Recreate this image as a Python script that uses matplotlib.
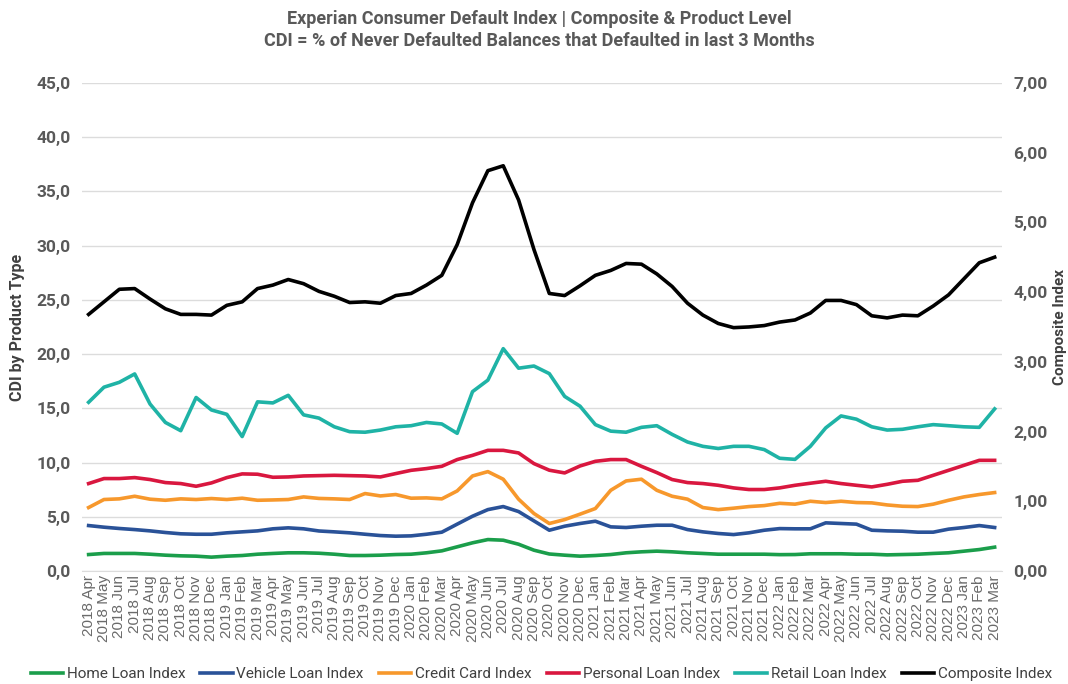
import matplotlib
matplotlib.use('Agg')
import matplotlib.pyplot as plt
from matplotlib.ticker import FuncFormatter, MultipleLocator

plt.rcParams['font.family'] = ['Roboto', 'DejaVu Sans']

years = [2018]*9 + [2019]*12 + [2020]*12 + [2021]*12 + [2022]*12 + [2023]*3
months = (['Apr', 'May', 'Jun', 'Jul', 'Aug', 'Sep', 'Oct', 'Nov', 'Dec']
          + ['Jan', 'Feb', 'Mar', 'Apr', 'May', 'Jun', 'Jul', 'Aug', 'Sep', 'Oct', 'Nov', 'Dec'] * 4
          + ['Jan', 'Feb', 'Mar'])
labels = [f'{y} {m}' for y, m in zip(years, months)]

home = [1.53, 1.63, 1.63, 1.63, 1.56, 1.47, 1.41, 1.38, 1.29, 1.38, 1.44, 1.56, 1.63, 1.69, 1.69, 1.65,
        1.56, 1.44, 1.44, 1.47, 1.53, 1.56, 1.69, 1.87, 2.24, 2.61, 2.91, 2.85, 2.48, 1.93, 1.58,
        1.47, 1.38, 1.44, 1.53, 1.69, 1.78, 1.84, 1.78, 1.69, 1.63, 1.56, 1.56, 1.56, 1.56, 1.52,
        1.53, 1.60, 1.60, 1.60, 1.56, 1.56, 1.50, 1.53, 1.56, 1.63, 1.69, 1.84, 1.99, 2.21]
vehicle = [4.20, 4.05, 3.93, 3.83, 3.71, 3.56, 3.44, 3.40, 3.40, 3.53, 3.62, 3.71, 3.90, 3.99, 3.90, 3.70,
           3.62, 3.53, 3.40, 3.28, 3.22, 3.25, 3.40, 3.59, 4.33, 5.06, 5.67, 5.95, 5.49, 4.63, 3.77,
           4.14, 4.39, 4.60, 4.08, 4.02, 4.14, 4.23, 4.23, 3.83, 3.62, 3.47, 3.37, 3.53, 3.77, 3.92,
           3.90, 3.90, 4.45, 4.39, 4.33, 3.77, 3.71, 3.68, 3.59, 3.59, 3.87, 4.02, 4.20, 4.02]
credit = [5.86, 6.60, 6.66, 6.90, 6.63, 6.53, 6.66, 6.60, 6.69, 6.60, 6.72, 6.53, 6.56, 6.60, 6.84, 6.70,
          6.66, 6.60, 7.15, 6.93, 7.06, 6.72, 6.75, 6.66, 7.39, 8.77, 9.17, 8.47, 6.63, 5.31, 4.39,
          4.75, 5.25, 5.77, 7.45, 8.31, 8.47, 7.45, 6.90, 6.63, 5.86, 5.67, 5.80, 5.95, 6.04, 6.25,
          6.17, 6.44, 6.32, 6.44, 6.32, 6.29, 6.10, 5.98, 5.95, 6.17, 6.53, 6.84, 7.06, 7.24]
personal = [8.07, 8.53, 8.53, 8.62, 8.44, 8.16, 8.07, 7.82, 8.13, 8.62, 8.96, 8.93, 8.65, 8.68, 8.77, 8.80,
            8.83, 8.80, 8.77, 8.68, 8.99, 9.29, 9.45, 9.66, 10.28, 10.67, 11.13, 11.13, 10.89, 9.91, 9.30,
            9.05, 9.69, 10.12, 10.28, 10.28, 9.66, 9.08, 8.44, 8.16, 8.07, 7.91, 7.67, 7.52, 7.52, 7.67,
            7.91, 8.10, 8.28, 8.07, 7.91, 7.76, 8.00, 8.28, 8.37, 8.83, 9.29, 9.75, 10.21, 10.21]
retail = [15.56, 16.95, 17.40, 18.17, 15.40, 13.70, 12.94, 16.00, 14.85, 14.45, 12.40, 15.60, 15.50, 16.20, 14.40, 14.10,
          13.30, 12.85, 12.80, 13.00, 13.30, 13.40, 13.70, 13.56, 12.70, 16.54, 17.60, 20.50, 18.70, 18.90, 18.20,
          16.10, 15.20, 13.50, 12.90, 12.80, 13.25, 13.40, 12.60, 11.90, 11.50, 11.30, 11.50, 11.50, 11.20, 10.40,
          10.30, 11.50, 13.20, 14.30, 14.00, 13.30, 13.00, 13.07, 13.30, 13.50, 13.40, 13.30, 13.25, 14.95]
composite = [3.68, 3.86, 4.04, 4.05, 3.90, 3.76, 3.68, 3.68, 3.67, 3.81, 3.86, 4.05, 4.10, 4.18, 4.12, 4.01,
             3.94, 3.85, 3.86, 3.84, 3.95, 3.98, 4.10, 4.24, 4.68, 5.28, 5.74, 5.81, 5.32, 4.61, 3.98,
             3.95, 4.09, 4.24, 4.31, 4.41, 4.40, 4.26, 4.08, 3.84, 3.67, 3.55, 3.49, 3.50, 3.52, 3.57,
             3.60, 3.70, 3.88, 3.88, 3.82, 3.66, 3.63, 3.67, 3.66, 3.80, 3.96, 4.19, 4.42, 4.50]

gray = '#595959'
x = list(range(len(labels)))

fig = plt.figure(figsize=(10.68, 6.84), dpi=100)
ax = fig.add_axes([0.0765, 0.165, 0.862, 0.714])
ax2 = ax.twinx()

lw = 2.6
ax.plot(x, home, color='#1b9e4b', lw=lw, label='Home Loan Index')
ax.plot(x, vehicle, color='#2a5298', lw=lw, label='Vehicle Loan Index')
ax.plot(x, credit, color='#f7982c', lw=lw, label='Credit Card Index')
ax.plot(x, personal, color='#d9173f', lw=lw, label='Personal Loan Index')
ax.plot(x, retail, color='#1fb3a6', lw=lw, label='Retail Loan Index')
ax2.plot(x, composite, color='black', lw=lw, label='Composite Index')

ax.set_xlim(-0.45, len(labels) - 0.5)
ax.set_ylim(0, 45)
ax2.set_ylim(0, 7)
ax.yaxis.set_major_locator(MultipleLocator(5))
ax2.yaxis.set_major_locator(MultipleLocator(1))
ax.yaxis.set_major_formatter(FuncFormatter(lambda v, p: f'{v:.1f}'.replace('.', ',')))
ax2.yaxis.set_major_formatter(FuncFormatter(lambda v, p: f'{v:.2f}'.replace('.', ',')))

ax.grid(axis='y', color='#dcdcdc', lw=1)
ax.set_axisbelow(True)
for a in (ax, ax2):
    for s in a.spines.values():
        s.set_visible(False)
    a.tick_params(length=0)
ax.spines['bottom'].set_visible(True)
ax.spines['bottom'].set_color('#dcdcdc')

ax.set_xticks(x)
ax.set_xticklabels(labels, rotation=90, fontsize=11, color='#6a6a6a', family=['Liberation Sans', 'DejaVu Sans'])
ax.tick_params(axis='x', pad=3)
for lab in ax.get_yticklabels() + ax2.get_yticklabels():
    lab.set_fontsize(12.5)
    lab.set_color(gray)
    lab.set_fontweight('bold')
ax.tick_params(axis='y', pad=8)
ax2.tick_params(axis='y', pad=8)

ax.set_ylabel('CDI by Product Type', fontsize=11.5, color='#404040', fontweight='bold', labelpad=8)
ax2.set_ylabel('Composite Index', fontsize=11, color='#404040', fontweight='bold', labelpad=4)

fig.text(0.505, 0.972, 'Experian Consumer Default Index | Composite & Product Level',
         ha='center', va='center', fontsize=13, fontweight='bold', color=gray)
fig.text(0.505, 0.94, 'CDI = % of Never Defaulted Balances that Defaulted in last 3 Months',
         ha='center', va='center', fontsize=13, fontweight='bold', color=gray)

h1, l1 = ax.get_legend_handles_labels()
h2, l2 = ax2.get_legend_handles_labels()
fig.legend(h1 + h2, l1 + l2, loc='center', bbox_to_anchor=(0.507, 0.014), ncol=6, frameon=False,
           fontsize=11, handlelength=2.1, handletextpad=0.25, columnspacing=1.0,
           labelcolor='#404040')

fig.savefig('out.png', dpi=100)
